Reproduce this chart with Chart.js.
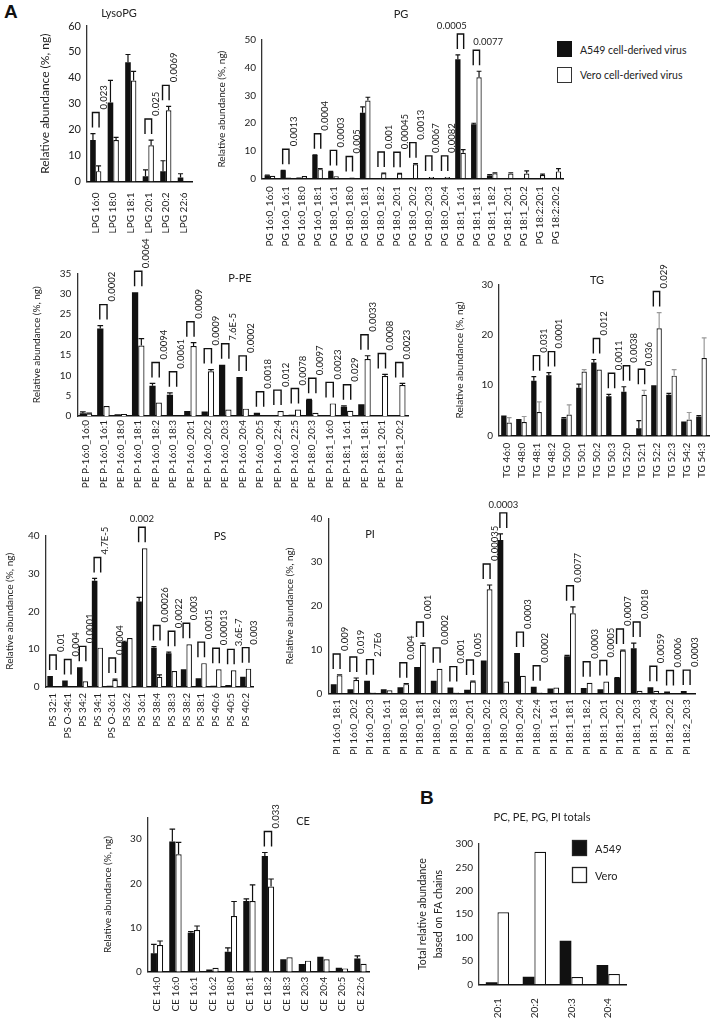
<!DOCTYPE html>
<html>
<head>
<meta charset="utf-8">
<script src="https://cdn.jsdelivr.net/npm/chart.js@4.4.0/dist/chart.umd.min.js"></script>
<style>
body { margin: 0; background: #fff; width: 726px; height: 1023px; position: relative; overflow: hidden; font-family: Lato, sans-serif; color: #222; }
canvas { position: absolute; }
.big { position: absolute; font: bold 19px "Liberation Sans", Arial, sans-serif; color: #111; }
.sw { position: absolute; width: 15px; height: 16px; box-sizing: border-box; }
.lt { position: absolute; font-size: 10.5px; line-height: 14px; white-space: nowrap; }
</style>
</head>
<body>
<div class="big" style="left:4px;top:1px">A</div>
<div class="big" style="left:420px;top:787px">B</div>
<div class="sw" style="left:557px;top:41px;background:#111"></div>
<div class="lt" style="left:580px;top:43px">A549 cell-derived virus</div>
<div class="sw" style="left:557px;top:67px;background:#fff;border:1.5px solid #333"></div>
<div class="lt" style="left:580px;top:68px">Vero cell-derived virus</div>

<script>
// ---- data ----
var lpgCats = ['LPG 16:0', 'LPG 18:0', 'LPG 18:1', 'LPG 20:1', 'LPG 20:2', 'LPG 22:6'];
var lpgA549 = [16, 30.5, 46, 2, 4, 1.5];
var lpgA549Err = [2.5, 8.5, 3, 2.5, 4, 1.5];
var lpgVero = [4, 16, 39, 14, 27.5, 0];
var lpgVeroErr = [2, 1, 3.5, 2, 1.5, 0];
var lpgP = ['0.023', '', '', '0.025', '0.0069', ''];

var pgCats = ['PG 16:0_16:0', 'PG 16:0_16:1', 'PG 16:0_18:0', 'PG 16:0_18:1', 'PG 18:0_16:1', 'PG 18:0_18:0',
  'PG 18:0_18:1', 'PG 18:0_18:2', 'PG 18:0_20:1', 'PG 18:0_20:2', 'PG 18:0_20:3', 'PG 18:0_20:4',
  'PG 18:1_16:1', 'PG 18:1_18:1', 'PG 18:1_18:2', 'PG 18:1_20:1', 'PG 18:1_20:2', 'PG 18:2:20:1', 'PG 18:2:20:2'];
var pgA549 = [1.1, 2.8, 0.3, 8.4, 2.4, 0, 23.7, 0, 0, 0, 0, 0, 43, 19.5, 1.0, 0, 0, 0, 0];
var pgA549Err = [0.1, 0.1, 0, 0.1, 0.1, 0, 2.1, 0, 0, 0, 0, 0, 1.6, 0.4, 0.3, 0, 0, 0, 0];
var pgVero = [0.9, 0.3, 0.8, 3.3, 0.7, 0.3, 28.1, 1.8, 1.7, 5.1, 0.5, 0.5, 9.2, 36.5, 1.8, 1.7, 1.7, 1.2, 2.5];
var pgVeroErr = [0, 0, 0, 0.2, 0, 0, 1.2, 0.1, 0.1, 0.2, 0, 0, 1.2, 2.2, 0.2, 0.3, 1.0, 0.3, 1.0];
var pgP = ['', '0.0013', '', '0.0004', '0.0003', '0.005', '', '0.001', '0.00045', '0.0013', '0.0067', '0.0082',
  '0.0005', '0.0077', '', '', '', '', ''];

var ppeCats = ['PE P-16:0_16:0', 'PE P-16:0_16:1', 'PE P-16:0_18:0', 'PE P-16:0_18:1', 'PE P-16:0_18:2', 'PE P-16:0_18:3',
  'PE P-16:0_20:1', 'PE P-16:0_20:2', 'PE P-16:0_20:3', 'PE P-16:0_20:4', 'PE P-16:0_20:5', 'PE P-16:0_22:4',
  'PE P-16:0_22:5', 'PE P-18:0_20:3', 'PE P-18:1_16:0', 'PE P-18:1_16:1', 'PE P-18:1_18:1', 'PE P-18:1_20:1', 'PE P-18:1_20:2'];
var ppeA549 = [0.65, 21.5, 0.4, 30.4, 7.4, 5.2, 1.2, 1.1, 12.6, 9.6, 0.8, 0.2, 0.3, 3.9, 0, 2.3, 2.9, 0, 0.2];
var ppeA549Err = [0.35, 0.7, 0, 0, 0.6, 0.5, 0, 0, 0, 0, 0, 0, 0, 0.2, 0, 0.2, 0, 0, 0];
var ppeVero = [0.6, 2.45, 0.5, 17.3, 3.3, 0, 17.2, 11.0, 1.6, 1.8, 0, 1.2, 1.6, 0.8, 3.1, 1.3, 14, 9.8, 7.6];
var ppeVeroErr = [0.1, 0, 0, 1.7, 0, 0, 0.8, 0.4, 0, 0, 0, 0, 0, 0, 0, 0, 0.8, 0.4, 0.4];
var ppeP = ['', '0.0002', '', '0.0064', '0.0094', '0.0061', '0.0009', '0.0009', '7.6E-5', '0.0002', '0.0018',
  '0.012', '0.0078', '0.0097', '0.0023', '0.029', '0.0033', '0.0008', '0.0023'];

var tgCats = ['TG 46:0', 'TG 48:0', 'TG 48:1', 'TG 48:2', 'TG 50:0', 'TG 50:1', 'TG 50:2', 'TG 50:3', 'TG 52:0',
  'TG 52:1', 'TG 52:2', 'TG 52:3', 'TG 54:2', 'TG 54:3'];
var tgA549 = [4.0, 3.3, 10.9, 12.0, 3.4, 9.5, 14.5, 7.8, 8.7, 1.5, 10.0, 8.1, 2.8, 3.8];
var tgA549Err = [0, 0, 0.8, 0.5, 0.2, 0.7, 0.6, 0.4, 1.0, 1.5, 0, 0.3, 0, 0.2];
var tgVero = [2.6, 2.7, 4.7, 0, 4.2, 12.7, 13.1, 0, 0, 8.1, 21.3, 11.9, 3.2, 15.4];
var tgVeroErr = [1.0, 1.1, 2.0, 0, 1.9, 0.4, 0, 0, 0, 0.9, 3.1, 1.2, 1.4, 4.0];
var tgP = ['', '', '0.031', '0.0001', '', '', '0.012', '0.0011', '0.0038', '0.036', '0.029', '', '', ''];

var psCats = ['PS 32:1', 'PS O-34:1', 'PS 34:2', 'PS 34:1', 'PS O-36:1', 'PS 36:2', 'PS 36:1', 'PS 38:4',
  'PS 38:3', 'PS 38:2', 'PS 38:1', 'PS 40:6', 'PS 40:5', 'PS 40:2'];
var psA549 = [2.9, 1.7, 5.2, 28.1, 0.35, 11.9, 22.6, 10.4, 8.9, 4.7, 2.3, 0.35, 0.5, 2.7];
var psA549Err = [0, 0, 0, 0.6, 0, 0.2, 1.1, 0.3, 0.3, 0, 0, 0, 0, 0];
var psVero = [0, 0, 1.5, 10.4, 1.85, 12.95, 36.7, 2.7, 4.2, 11.3, 6.3, 4.7, 4.4, 4.85];
var psVeroErr = [0, 0, 0, 0, 0.25, 0, 0, 0.5, 0, 0, 0, 0, 0, 0];
var psP = ['0.01', '0.004', '0.0001', '4.7E-5', '0.0004', '', '0.002', '0.00026', '0.0022', '0.003', '0.0015',
  '0.00013', '3.6E-7', '0.003'];

var piCats = ['PI 16:0_18:1', 'PI 16:0_20:2', 'PI 16:0_20:3', 'PI 18:0_16:1', 'PI 18:0_18:0', 'PI 18:0_18:1',
  'PI 18:0_18:2', 'PI 18:0_18:3', 'PI 18:0_20:1', 'PI 18:0_20:2', 'PI 18:0_20:3', 'PI 18:0_20:4', 'PI 18:0_22:4',
  'PI 18:1_16:1', 'PI 18:1_18:1', 'PI 18:1_18:2', 'PI 18:1_20:1', 'PI 18:1_20:2', 'PI 18:1_20:3', 'PI 18:1_20:4',
  'PI 18:2_20:2', 'PI 18:2_20:3'];
var piA549 = [2.1, 0.9, 2.9, 0.9, 1.4, 6.0, 2.9, 1.3, 0.8, 7.5, 35.1, 9.2, 1.5, 1.1, 8.5, 1.2, 0.9, 3.5, 10.3, 1.4, 0.4, 0.5];
var piA549Err = [0, 0, 0, 0, 0, 0, 0, 0, 0, 0, 1.4, 0, 0, 0, 0.2, 0, 0, 0.1, 1.2, 0, 0, 0];
var piVero = [4.1, 3.05, 0.2, 0.7, 2.1, 11.1, 5.6, 0.2, 2.7, 23.8, 2.7, 4.0, 0.2, 1.3, 18.3, 2.4, 2.7, 9.8, 0.6, 0.6, 0, 0];
var piVeroErr = [0.1, 0.45, 0, 0, 0.1, 0.4, 0, 0, 0.1, 1.0, 0, 0, 0, 0, 1.5, 0, 0, 0.1, 0, 0, 0, 0];
var piP = ['0.009', '0.019', '2.7E6', '', '0.004', '0.001', '0.0002', '0.001', '0.005', '0.00035', '0.0003',
  '0.0003', '0.0002', '', '0.0077', '0.0003', '0.0005', '0.0007', '0.0018', '0.0059', '0.0006', '0.0003'];

var ceCats = ['CE 14:0', 'CE 16:0', 'CE 16:1', 'CE 16:2', 'CE 18:0', 'CE 18:1', 'CE 18:2', 'CE 18:3',
  'CE 20:3', 'CE 20:4', 'CE 20:5', 'CE 22:6'];
var ceA549 = [4.2, 29.5, 8.85, 0.5, 4.5, 16.0, 26.2, 2.8, 1.75, 3.4, 0.9, 3.0];
var ceA549Err = [2.0, 2.8, 0.25, 0, 0.9, 0.5, 0.8, 0, 0, 0, 0, 0.6];
var ceVero = [6.05, 26.6, 9.45, 0.9, 12.6, 16.0, 19.3, 3.25, 2.5, 2.8, 0.75, 1.8];
var ceVeroErr = [0.9, 2.7, 0.9, 0, 3.3, 3.65, 1.7, 0, 0, 0, 0, 0];
var ceP = ['', '', '', '', '', '', '0.033', '', '', '', '', ''];

var totCats = ['20:1', '20:2', '20:3', '20:4'];
var totA549 = [4.3, 16.4, 93.3, 41.3];
var totVero = [153.8, 283.5, 15.7, 22.1];

// ---- plugins ----
Chart.defaults.font.family = 'Lato';
Chart.defaults.color = '#222';

var errBars = {
  id: 'errBars',
  afterDatasetsDraw: function(chart) {
    var ctx = chart.ctx, y = chart.scales.y;
    chart.data.datasets.forEach(function(ds, d) {
      if (!ds.err) return;
      chart.getDatasetMeta(d).data.forEach(function(bar, i) {
        var e = ds.err[i];
        if (!e) return;
        var y1 = y.getPixelForValue(ds.data[i] + e);
        var hw = bar.width * 0.45;
        ctx.save();
        ctx.strokeStyle = ds.errColor;
        ctx.lineWidth = 1.2;
        ctx.beginPath();
        ctx.moveTo(bar.x, bar.y);
        ctx.lineTo(bar.x, y1);
        ctx.moveTo(bar.x - hw, y1);
        ctx.lineTo(bar.x + hw, y1);
        ctx.stroke();
        ctx.restore();
      });
    });
  }
};

var brackets = {
  id: 'brackets',
  afterDatasetsDraw: function(chart, args, o) {
    if (!o.p) return;
    var ctx = chart.ctx, y = chart.scales.y, ds = chart.data.datasets;
    var m0 = chart.getDatasetMeta(0), m1 = chart.getDatasetMeta(1);
    o.p.forEach(function(txt, i) {
      if (!txt) return;
      var hi = Math.max(ds[0].data[i] + (ds[0].err[i] || 0), ds[1].data[i] + (ds[1].err[i] || 0));
      var yb = y.getPixelForValue(hi) - 6, yt = yb - 15;
      var x0 = m0.data[i].x - 0.5, x1 = m1.data[i].x + 0.5;
      ctx.save();
      ctx.strokeStyle = '#111';
      ctx.lineWidth = 1.4;
      ctx.beginPath();
      ctx.moveTo(x0, yb); ctx.lineTo(x0, yt); ctx.lineTo(x1, yt); ctx.lineTo(x1, yb);
      ctx.stroke();
      ctx.fillStyle = '#222';
      ctx.font = '9.5px Lato';
      ctx.textBaseline = 'middle';
      var mode = o.flat[i] || 'v';
      if (mode === 'v') {
        ctx.translate(x1 + 4.5, yt - 3);
        ctx.rotate(-Math.PI / 2);
        ctx.textAlign = 'left';
        ctx.fillText(txt, 0, 0);
      } else {
        ctx.textAlign = mode === 'c' ? 'center' : (mode === 'l' ? 'left' : 'right');
        var tx = mode === 'c' ? (x0 + x1) / 2 : (mode === 'l' ? x0 : x1 + 3);
        ctx.fillText(txt, tx, yt - 8);
      }
      ctx.restore();
    });
  }
};

var panelText = {
  id: 'panelText',
  afterDraw: function(chart, args, o) {
    var ctx = chart.ctx;
    ctx.save();
    ctx.fillStyle = '#222';
    ctx.textBaseline = 'middle';
    if (o.title) {
      ctx.font = '11px Lato';
      ctx.textAlign = 'center';
      ctx.fillText(o.title, o.x - o.ox, o.y - o.oy);
    }
    if (o.legend) {
      chart.data.datasets.forEach(function(ds, d) {
        var lx = o.legend.x - o.ox, ly = o.legend.y - o.oy + d * 27;
        ctx.fillStyle = ds.backgroundColor;
        ctx.fillRect(lx, ly, 15, 16);
        ctx.strokeStyle = '#222';
        ctx.lineWidth = 1.3;
        ctx.strokeRect(lx + 0.5, ly + 0.5, 14, 15);
        ctx.fillStyle = '#222';
        ctx.font = '11px Lato';
        ctx.textAlign = 'left';
        ctx.fillText(ds.label, lx + 23, ly + 9);
      });
    }
    ctx.restore();
  }
};

function panel(g, cats, a, aErr, v, vErr, p) {
  var cl = g.cl, ct = Math.round(g.axT - g.padT);
  var w = Math.ceil(g.axR + g.padR - cl), h = Math.ceil(g.axB + g.xH - ct);
  var c = document.createElement('canvas');
  c.width = w; c.height = h;
  c.style.left = cl + 'px'; c.style.top = ct + 'px';
  document.body.appendChild(c);
  var yW = g.axL - cl, padT = g.axT - ct, padR = w - (g.axR - cl), xH = h - (g.axB - ct);
  var sets = [
    { label: g.names ? g.names[0] : 'A549', data: a, err: aErr, errColor: '#111', backgroundColor: '#111',
      borderColor: '#111', borderWidth: 0, categoryPercentage: g.cat, barPercentage: 1 },
    { label: g.names ? g.names[1] : 'Vero', data: v, err: vErr, errColor: g.errW || '#111', backgroundColor: '#fff',
      borderColor: '#111', borderWidth: 1.2, categoryPercentage: g.cat, barPercentage: 1 }
  ];
  new Chart(c, {
    type: 'bar',
    data: { labels: cats, datasets: sets },
    options: {
      responsive: false,
      animation: false,
      layout: { padding: { top: padT, right: padR, left: 0, bottom: 0 } },
      scales: {
        x: {
          grid: { display: false, drawTicks: false },
          border: { color: '#111', width: 1.5 },
          ticks: { autoSkip: false, maxRotation: 90, minRotation: 90, padding: g.xPad, font: { size: 10 }, color: '#222' },
          afterFit: function(s) { s.height = xH; }
        },
        y: {
          min: 0, max: g.max,
          grid: { display: false, drawTicks: false },
          border: { color: '#333', width: 1.3 },
          ticks: { stepSize: g.step, padding: 6, font: { size: g.tick || 10 }, color: '#222' },
          afterBuildTicks: function(s) { s.ticks = s.ticks.filter(function(t) { return t.value % g.step === 0; }); },
          title: { display: true, text: g.yTitle, padding: 0, color: '#222', font: { size: g.yFont || 10, lineHeight: g.yLH || 1.2 } },
          afterFit: function(s) { s.width = yW; }
        }
      },
      plugins: {
        legend: { display: false },
        tooltip: { enabled: false },
        brackets: { p: p, flat: g.flat || {} },
        panelText: { title: g.title, x: g.tx, y: g.ty, ox: cl, oy: ct, legend: g.legend }
      }
    },
    plugins: [errBars, brackets, panelText]
  });
}

var relAb = 'Relative abundance (%, ng)';

panel({ cl: 38, axL: 87, axR: 199, axT: 26, axB: 181.5, padT: 23, padR: 8, xH: 56, xPad: 11,
  max: 60, step: 10, tick: 11, yFont: 12, yTitle: relAb, cat: 0.64, title: 'LysoPG', tx: 119, ty: 13 },
  lpgCats, lpgA549, lpgA549Err, lpgVero, lpgVeroErr, lpgP);

panel({ cl: 216, axL: 262, axR: 568, axT: 40, axB: 178.3, padT: 36, padR: 8, xH: 92, xPad: 8,
  max: 50, step: 10, yTitle: relAb, cat: 0.67, title: 'PG', tx: 401, ty: 14, flat: { 12: 'r', 13: 'l' } },
  pgCats, pgA549, pgA549Err, pgVero, pgVeroErr, pgP);

panel({ cl: 31, axL: 77.3, axR: 408, axT: 273.5, axB: 416, padT: 42, padR: 8, xH: 85, xPad: 4,
  max: 35, step: 5, yTitle: relAb, cat: 0.72, title: 'P-PE', tx: 240, ty: 278 },
  ppeCats, ppeA549, ppeA549Err, ppeVero, ppeVeroErr, ppeP);

panel({ cl: 454, axL: 499, axR: 709, axT: 284.3, axB: 435.7, padT: 34, padR: 12, xH: 50, xPad: 7,
  max: 30, step: 10, yTitle: relAb, cat: 0.71, errW: '#999', title: 'TG', tx: 597, ty: 280 },
  tgCats, tgA549, tgA549Err, tgVero, tgVeroErr, tgP);

panel({ cl: 4, axL: 45.5, axR: 255.5, axT: 535.7, axB: 687, padT: 26, padR: 8, xH: 58, xPad: 6,
  max: 40, step: 10, yTitle: relAb, cat: 0.75, title: 'PS', tx: 220, ty: 536, flat: { 6: 'c' } },
  psCats, psA549, psA549Err, psVero, psVeroErr, psP);

panel({ cl: 284, axL: 328.3, axR: 695, axT: 518.6, axB: 693.3, padT: 28, padR: 10, xH: 72, xPad: 6,
  max: 40, step: 10, yTitle: relAb, cat: 0.7, title: 'PI', tx: 370, ty: 534, flat: { 10: 'c' } },
  piCats, piA549, piA549Err, piVero, piVeroErr, piP);

panel({ cl: 102, axL: 147.7, axR: 369.7, axT: 817.2, axB: 971.7, padT: 22, padR: 8, xH: 46, xPad: 5,
  max: 35, step: 10, yTitle: relAb, cat: 0.67, title: 'CE', tx: 303, ty: 821 },
  ceCats, ceA549, ceA549Err, ceVero, ceVeroErr, ceP);

panel({ cl: 415, axL: 479, axR: 626.7, axT: 844, axB: 984.3, padT: 34, padR: 10, xH: 36, xPad: 14,
  max: 300, step: 50, yTitle: ['Total relative abundance', 'based on FA chains'], yFont: 10.5, yLH: '16px',
  cat: 0.63, title: 'PC, PE, PG, PI totals', tx: 542, ty: 817, legend: { x: 572, y: 840 } },
  totCats, totA549, [0, 0, 0, 0], totVero, [0, 0, 0, 0], []);
</script>
</body>
</html>
